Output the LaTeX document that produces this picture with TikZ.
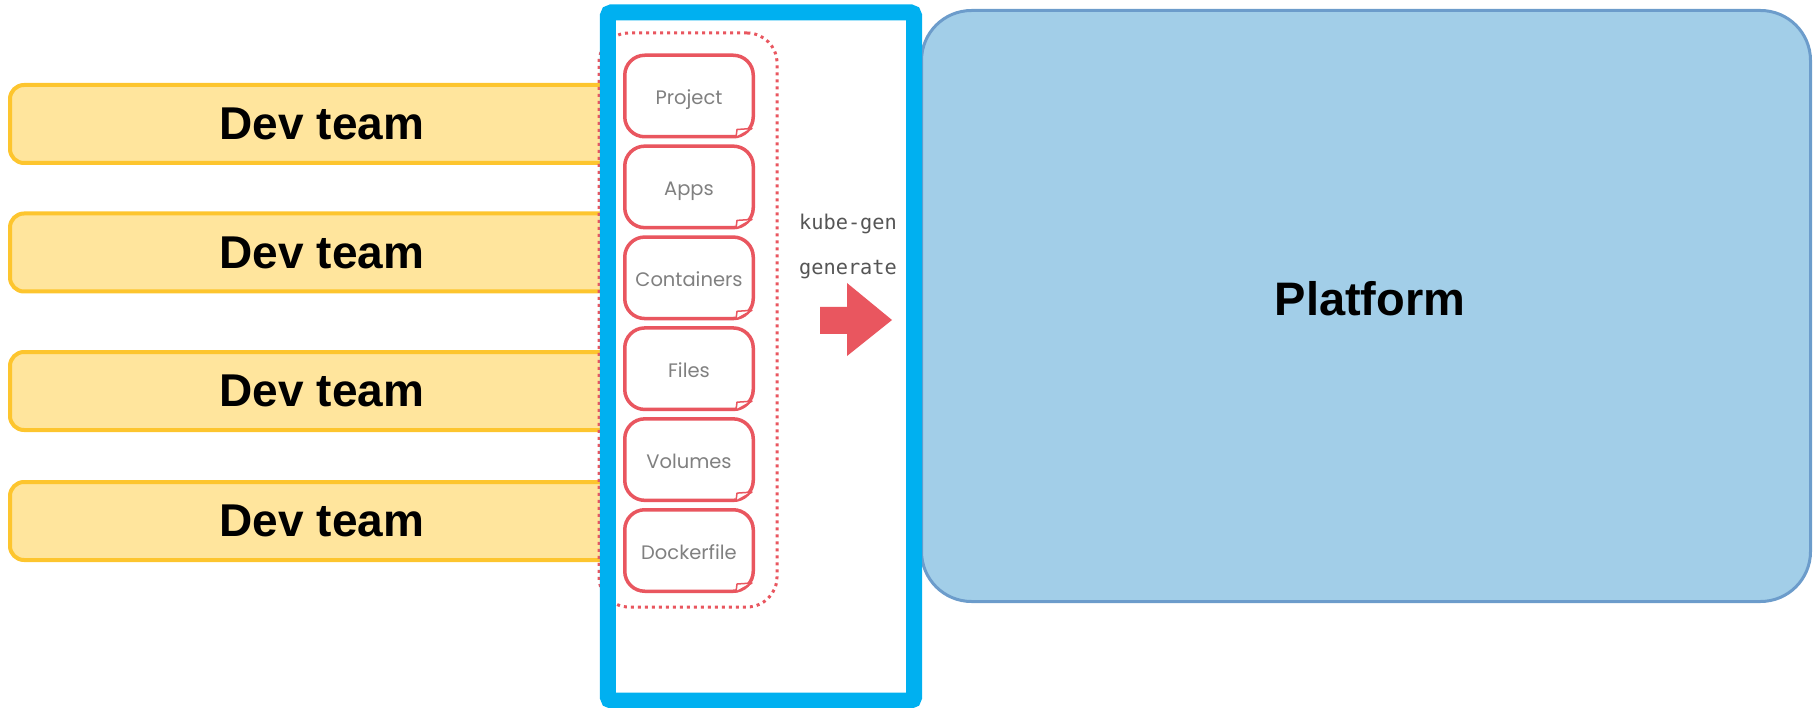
\documentclass[tikz,border=0pt]{standalone}
\usepackage{fontspec}
\setmainfont{Liberation Sans}
\newfontfamily\cardfont{Poppins}
\newfontfamily\kubemono{DejaVu Sans Mono}
\definecolor{devfill}{HTML}{FFE59D}
\definecolor{devline}{HTML}{FDC52E}
\definecolor{framecol}{HTML}{00B0F0}
\definecolor{platfill}{HTML}{A2CEE8}
\definecolor{platline}{HTML}{6C9CCB}
\definecolor{redc}{HTML}{E9565F}
\definecolor{cardtext}{HTML}{808080}
\definecolor{monotext}{HTML}{555555}
\begin{document}
\begin{tikzpicture}[x=1pt,y=-1pt,
  devbox/.style={draw=devline, fill=devfill, line width=4pt, rounded corners=14pt,
    minimum width=624pt, minimum height=78pt, inner sep=0pt,
    font=\fontsize{46}{50}\selectfont\bfseries},
  platbox/.style={draw=platline, fill=platfill, line width=3pt, rounded corners=50pt,
    minimum width=889pt, minimum height=591pt, inner sep=0pt},
  bigtext/.style={font=\fontsize{47}{52}\selectfont\bfseries, inner sep=0pt},
  framefill/.style={fill=white, minimum width=306pt, minimum height=688pt, inner sep=0pt},
  framestroke/.style={draw=framecol, line width=16pt, rounded corners=4pt},
  groupbox/.style={draw=redc, line width=3pt, dash pattern=on 3pt off 4pt,
    rounded corners=30pt, minimum width=178pt, minimum height=574pt, inner sep=0pt},
  card/.style={draw=redc, fill=white, line width=3.5pt, rounded corners=20pt,
    minimum width=128.5pt, minimum height=81.5pt, inner sep=0pt,
    text=cardtext, font=\cardfont\fontsize{19.5}{22}\selectfont,
    text height=17pt, text depth=0pt},
  monolabel/.style={text=monotext, font=\kubemono\fontsize{20.3}{24}\selectfont,
    inner sep=0pt, anchor=base},
  curl/.style={draw=redc, fill=white, line width=1.5pt, line join=round}
]
\useasboundingbox (0,0) rectangle (1814,708);

% Platform
\node[platbox] (plat) at (1366,306) {};
\node[bigtext] (platlabel) at (1370,299) {Platform};

% Dev teams
\node[devbox] (dev1) at (322,124) {Dev team};
\node[devbox] (dev2) at (322,252.5) {Dev team};
\node[devbox] (dev3) at (322,391) {Dev team};
\node[devbox] (dev4) at (322,521) {Dev team};

% Frame interior
\node[framefill] (frame) at (761,356.5) {};

% Dotted group
\node[groupbox] (group) at (688,320) {};

% Cards
\foreach \n/\cy/\t in {1/96/Project,2/186.9/Apps,3/277.8/Containers,4/368.7/Files,5/459.6/Volumes,6/550.5/Dockerfile}{
  \node[card] (card\n) at (689,\cy) {\t};
  \draw[curl] ([shift={(-19,-1)}]card\n.south east) -- ([shift={(-18,-9)}]card\n.south east)
     -- ([shift={(-3,-10)}]card\n.south east) -- cycle;
}

% Frame stroke
\draw[framestroke] (frame.north west) rectangle (frame.south east);

% kube-gen labels
\node[monolabel] (kube) at (848,230) {kube-gen};
\node[monolabel] (gen) at (848,275) {generate};

% Red block arrow
\fill[redc] (820,307) -- (847,307) -- (847,283) -- (892,320) -- (847,356) -- (847,334) -- (820,334) -- cycle;
\end{tikzpicture}
\end{document}
